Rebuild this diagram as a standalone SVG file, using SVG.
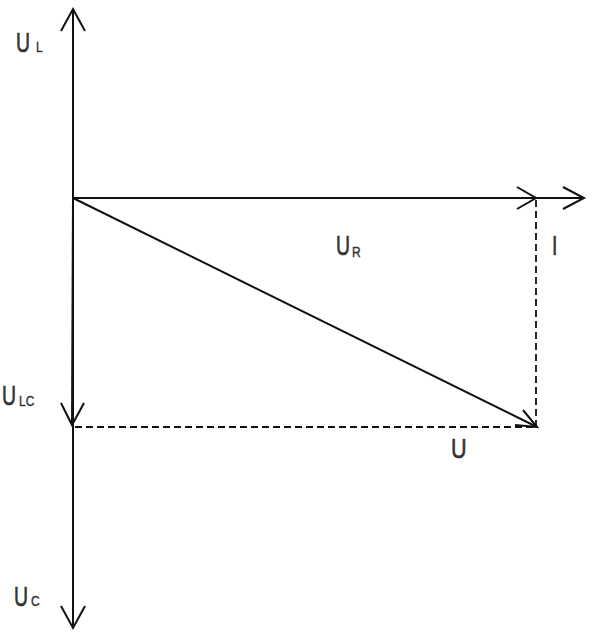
<svg xmlns="http://www.w3.org/2000/svg" width="594" height="640" viewBox="0 0 594 640">
<style>
.ln{stroke:#111;stroke-width:2;fill:none}
.ds{stroke:#111;stroke-width:1.8;fill:none;stroke-dasharray:7,4}
.t{font-family:"Liberation Sans",Arial,sans-serif;fill:#333;stroke:#333;stroke-width:0.6}
.b{font-size:27px}
.s{font-size:15px;stroke-width:0.4}
</style>
<rect width="594" height="640" fill="#fff"/>
<g id="connectors">
<line class="ln" x1="73" y1="9" x2="73" y2="628"/>
<polyline class="ln" points="61,31 73,9 85,31"/>
<polyline class="ln" points="61,606 73,628 85,606"/>
<line class="ln" x1="73" y1="198" x2="584" y2="198"/>
<polyline class="ln" points="563,187 584,198 563,209"/>
<polyline class="ln" points="517,187 536,198 517,209"/>
<line class="ln" x1="73" y1="198" x2="72" y2="425"/>
<polyline class="ln" points="61,403 72,425 84,403"/>
<line class="ln" x1="73" y1="198" x2="537" y2="427"/>
<polyline class="ln" points="515,425 537,427 523,410"/>
<line class="ds" x1="536" y1="200" x2="536" y2="427"/>
<line class="ds" x1="75" y1="427" x2="538" y2="427"/>
</g>
<g id="label-UL"><text class="t b" transform="translate(16,52) scale(0.72,1)">U</text><text class="t s" transform="translate(36,52) scale(0.8,1)">L</text></g>
<g id="label-ULC"><text class="t b" transform="translate(2,405) scale(0.72,1)">U</text><text class="t s" transform="translate(19,406) scale(0.8,1)">LC</text></g>
<g id="label-UC"><text class="t b" transform="translate(14,606) scale(0.72,1)">U</text><text class="t s" transform="translate(31,606) scale(0.8,1)">C</text></g>
<g id="label-UR"><text class="t b" transform="translate(336,255) scale(0.72,1)">U</text><text class="t s" transform="translate(352,257) scale(0.8,1)">R</text></g>
<g id="label-I"><text class="t b" transform="translate(552,255) scale(0.72,1)">I</text></g>
<g id="label-U"><text class="t b" transform="translate(451,458) scale(0.8,1)">U</text></g>
</svg>
